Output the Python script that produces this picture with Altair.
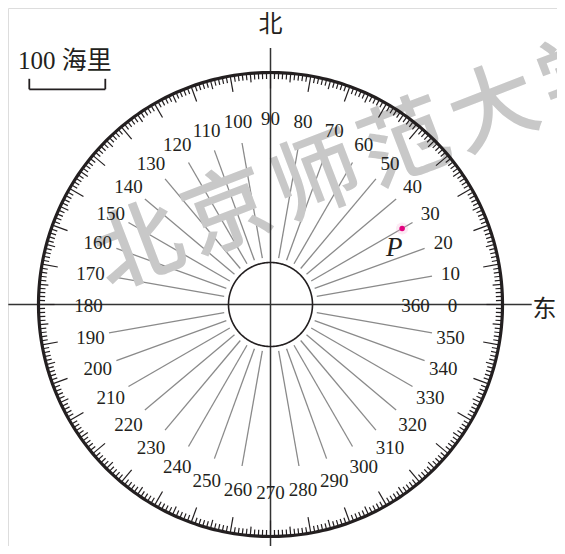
import altair as alt
import numpy as np
import pandas as pd

# ---------------- data ----------------
BEARINGS = [0, 10, 20, 30, 40, 50, 60, 70, 80, 90, 100, 110, 120, 130, 140, 150, 160, 170,
            180, 190, 200, 210, 220, 230, 240, 250, 260, 270, 280, 290, 300, 310, 320, 330, 340, 350]
BEARING_LABELS = ["0", "10", "20", "30", "40", "50", "60", "70", "80", "90", "100", "110", "120",
                  "130", "140", "150", "160", "170", "180", "190", "200", "210", "220", "230",
                  "240", "250", "260", "270", "280", "290", "300", "310", "320", "330", "340", "350"]
EXTRA_LABEL = ["360"]
EXTRA_BEARING = [0]
P_NAME = ["P"]
P_BEARING = [30]
P_DISTANCE_NM = [200]
SCALE_NM = [100]
SCALE_TEXT = ["100 海里"]
NORTH_TEXT = ["北"]
EAST_TEXT = ["东"]
WATERMARK = ["北", "京", "师", "范", "大", "学"]

# ---------------- geometry / style ----------------
PX_PER_NM = 0.76
R_OUTER, R_INNER = 232.0, 42.0
RAY_IN, RAY_OUT = 47.0, 164.0
W, H = 549, 538
CX, CY = 262.5, 296.5   # centre inside plot area (px from left / top)

xs = alt.Scale(domain=[-CX, W - CX], range=[0, W], nice=False, zero=False)
ys = alt.Scale(domain=[-(H - CY), CY], range=[H, 0], nice=False, zero=False)

SERIF = "'Liberation Serif', serif"
CJK = "'Noto Sans CJK SC'"
INK = "#231f20"


def polar(r, deg):
    t = np.deg2rad(deg)
    return r * np.cos(t), r * np.sin(t)


def enc_pt(extra=None):
    d = dict(x=alt.X("x:Q", scale=xs, axis=None), y=alt.Y("y:Q", scale=ys, axis=None))
    if extra:
        d.update(extra)
    return d


def enc_seg():
    return dict(x=alt.X("x:Q", scale=xs, axis=None), y=alt.Y("y:Q", scale=ys, axis=None),
                x2="x2:Q", y2="y2:Q")


# circles
def circle_df(r):
    a = np.arange(0, 361, 1)
    x, y = polar(r, a)
    return pd.DataFrame({"x": x, "y": y, "o": a})

outer = alt.Chart(circle_df(R_OUTER)).mark_line(color=INK, strokeWidth=3.2).encode(
    **enc_pt({"order": "o:Q"}))
inner = alt.Chart(circle_df(R_INNER)).mark_line(color=INK, strokeWidth=1.6).encode(
    **enc_pt({"order": "o:Q"}))

# degree ticks
ta = np.arange(0, 360)
tl = np.where(ta % 10 == 0, 16.0, np.where(ta % 5 == 0, 9.0, 6.5))
x1, y1 = polar(R_OUTER, ta)
x2, y2 = polar(R_OUTER - tl, ta)
ticks = alt.Chart(pd.DataFrame({"x": x1, "y": y1, "x2": x2, "y2": y2})).mark_rule(
    color=INK, strokeWidth=1.2).encode(**enc_seg())

# rays
ray_ang = np.array([b for b in BEARINGS if b % 90 != 0], dtype=float)
rx1, ry1 = polar(RAY_IN, ray_ang)
rx2, ry2 = polar(RAY_OUT, ray_ang)
rays = alt.Chart(pd.DataFrame({"x": rx1, "y": ry1, "x2": rx2, "y2": ry2})).mark_rule(
    color="#8a8a8a", strokeWidth=1.3).encode(**enc_seg())

# axes
axes_df = pd.DataFrame({"x": [-262.2, 0.0], "y": [0.0, 256.5],
                        "x2": [261.2, 0.0], "y2": [0.0, -(H - CY)]})
axes = alt.Chart(axes_df).mark_rule(color="#333333", strokeWidth=1.5).encode(**enc_seg())

# bearing labels
lab_ang = np.array(BEARINGS + EXTRA_BEARING, dtype=float)
lab_txt = BEARING_LABELS + EXTRA_LABEL
lab_r = 182 + 5 * np.abs(np.sin(np.deg2rad(lab_ang)))
lab_r[-1] = 145.0
lx, ly = polar(lab_r, lab_ang)
labels = alt.Chart(pd.DataFrame({"x": lx, "y": ly, "t": lab_txt})).mark_text(
    font=SERIF, fontSize=19, color=INK, align="center", baseline="middle", dy=1.5
).encode(**enc_pt({"text": "t:N"}))

# watermark
wm_x0, wm_y0 = 140 - 270.5, 304.5 - 250
wm_dx, wm_dy = 88.75, 34.5
wm = pd.DataFrame({"t": WATERMARK,
                   "x": [wm_x0 + i * wm_dx for i in range(len(WATERMARK))],
                   "y": [wm_y0 + i * wm_dy for i in range(len(WATERMARK))]})
watermark = alt.Chart(wm).mark_text(
    font=CJK, fontSize=88, fontWeight=500, color="#c8c8c8", angle=339,
    align="center", baseline="middle"
).encode(**enc_pt({"text": "t:N"}))

# point P
px, py = polar(np.array(P_DISTANCE_NM) * PX_PER_NM, np.array(P_BEARING, dtype=float))
p_df = pd.DataFrame({"x": px, "y": py, "t": P_NAME})
p_halo = alt.Chart(p_df).mark_point(filled=True, shape="circle", size=150, color="#f4a6cf",
                                     opacity=0.25).encode(**enc_pt())
p_dot = alt.Chart(p_df).mark_point(filled=True, shape="circle", size=30, color="#e4007f",
                                    opacity=1).encode(**enc_pt())
p_lab = alt.Chart(p_df).mark_text(font=SERIF, fontSize=27, fontStyle="italic", color=INK,
                                  align="center", baseline="middle", dx=-8, dy=19
                                  ).encode(**enc_pt({"text": "t:N"}))

# compass words
nd = pd.DataFrame({"x": [0.0, 274.0], "y": [279.5, -5.0], "t": NORTH_TEXT + EAST_TEXT})
compass = alt.Chart(nd).mark_text(font=CJK, fontSize=24, color=INK, align="center",
                                  baseline="middle").encode(**enc_pt({"text": "t:N"}))

# scale bar
sb_left = -241.2
sb_len = SCALE_NM[0] * PX_PER_NM
sb_y = 215.2
sb_df = pd.DataFrame({"x": [sb_left, sb_left, sb_left + sb_len],
                      "y": [sb_y, sb_y, sb_y],
                      "x2": [sb_left + sb_len, sb_left, sb_left + sb_len],
                      "y2": [sb_y, sb_y + 10.5, sb_y + 10.5]})
scalebar = alt.Chart(sb_df).mark_rule(color=INK, strokeWidth=1.8).encode(**enc_seg())
st_df = pd.DataFrame({"x": [-252.5], "y": [243.5], "t": SCALE_TEXT})
scaletext = alt.Chart(st_df).mark_text(font=f"{SERIF.split(',')[0]}, {CJK}", fontSize=25,
                                       color=INK, align="left", baseline="middle"
                                       ).encode(**enc_pt({"text": "t:N"}))

chart = alt.layer(
    rays, watermark, axes, inner, ticks, outer, labels, p_halo, p_dot, p_lab,
    compass, scalebar, scaletext
).properties(width=W, height=H, padding=0, autosize=alt.AutoSizeParams(type="none")
).configure_view(stroke=None).configure(background="white")

chart.save("out.html", embed_options={"renderer": "svg", "actions": False})
